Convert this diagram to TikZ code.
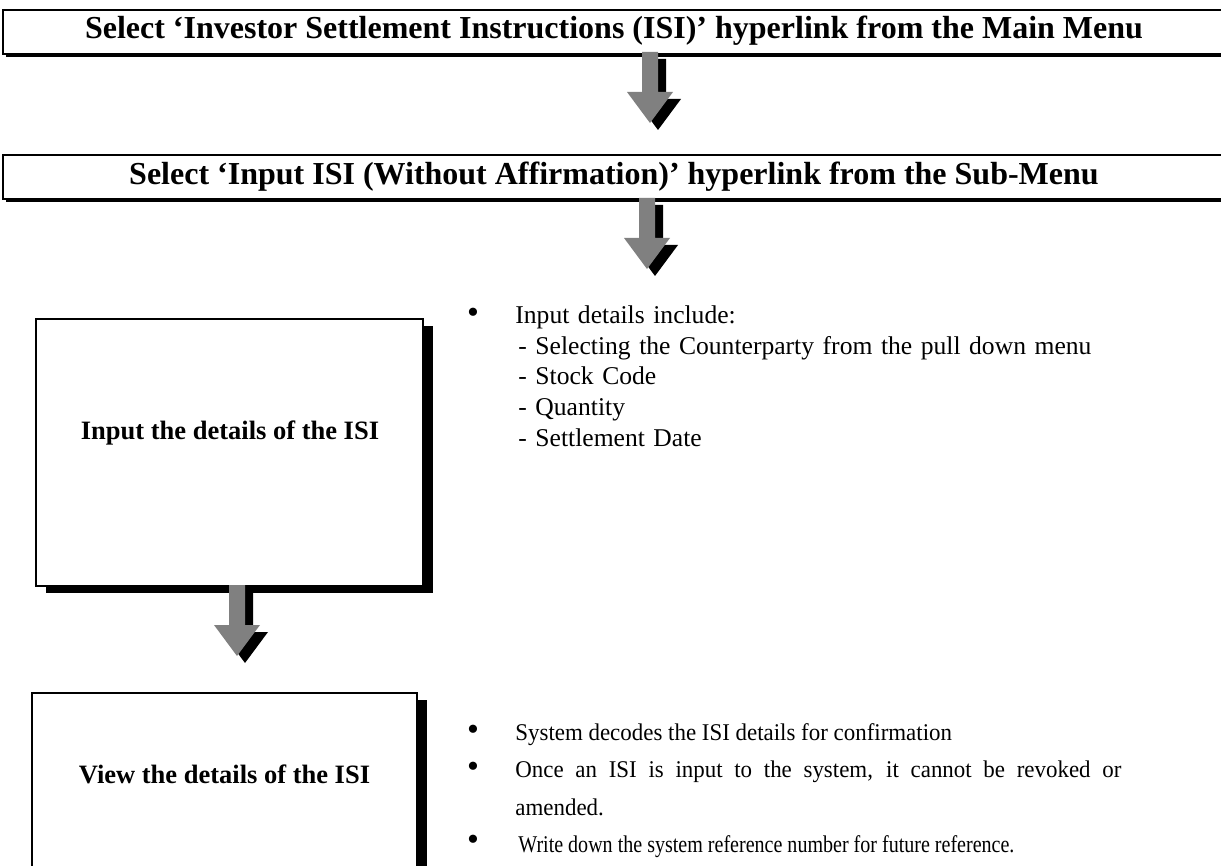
\documentclass[tikz,border=0pt]{standalone}
\usepackage{fontspec}
\setmainfont{Liberation Serif}
\newfontfamily\notefont[FakeStretch=0.955]{Liberation Serif}
\newfontfamily\narrownotefont[FakeStretch=0.835]{Liberation Serif}
\usetikzlibrary{shadows}
\definecolor{arrowgray}{HTML}{808080}

\begin{document}
\begin{tikzpicture}[x=0.5pt,y=-0.5pt,
    headbox/.style={draw, line width=1pt, fill=white, inner sep=0pt,
      minimum width=611pt, minimum height=22pt,
      text height=0.66em, text depth=0pt,
      font=\fontsize{16}{19}\selectfont\bfseries,
      drop shadow={shadow xshift=1.5pt, shadow yshift=-1.5pt, opacity=1, fill=black}},
    stepbox/.style={draw, line width=1pt, fill=white, inner sep=0pt,
      drop shadow={shadow xshift=5pt, shadow yshift=-3.5pt, opacity=1, fill=black}},
    boxtext/.style={inner sep=0pt, text height=0.66em, text depth=0pt,
      font=\fontsize{13.25}{16}\selectfont\bfseries},
    bulletmark/.style={inner sep=0pt, anchor=center, font=\fontsize{17}{17}\selectfont},
    listone/.style={inner sep=0pt, anchor=base west, text width=300pt, align=left,
      font=\fontsize{12.8}{15.5}\selectfont},
    listtwo/.style={inner sep=0pt, anchor=base west, text width=303pt, align=justify,
      font=\fontsize{12}{18.75}\notefont},
    downarrow/.pic={
      \fill[black, shift={(8,7)}] (-8,0) -- (8,0) -- (8,40) -- (23,40) -- (0,71)
        -- (-23,40) -- (-8,40) -- cycle;
      \fill[arrowgray] (-8,0) -- (8,0) -- (8,40) -- (23,40) -- (0,71)
        -- (-23,40) -- (-8,40) -- cycle;
    }]
  \clip (0,0) rectangle (1221,866);

  % menu steps
  \node[headbox] (mainmenu) at (614,32) {Select ‘Investor Settlement Instructions (ISI)’ hyperlink from the Main Menu};
  \node[headbox] (submenu) at (614,177.5) {Select ‘Input ISI (Without Affirmation)’ hyperlink from the Sub-Menu};

  % input and view boxes
  \node[stepbox, minimum width=193.5pt, minimum height=133.5pt] (input) at (229.5,452.5) {};
  \node[boxtext] (inputlbl) at (230,433) {Input the details of the ISI};

  \node[stepbox, minimum width=192.5pt, minimum height=133.5pt] (view) at (224.5,826.5) {};
  \node[boxtext] (viewlbl) at (224.5,777) {View the details of the ISI};

  % arrows
  \pic at (650,52) {downarrow};
  \pic at (647,198) {downarrow};
  \pic at (237,585) {downarrow};

  % notes for input
  \node[bulletmark] (b1) at (473,316) {\textbullet};
  \node[listone] (details) at (515,323) {Input details include:\\
    \hspace*{1.5pt}- Selecting the Counterparty from the pull down menu\\
    \hspace*{1.5pt}- Stock Code\\
    \hspace*{1.5pt}- Quantity\\
    \hspace*{1.5pt}- Settlement Date};

  % notes for view
  \node[bulletmark] (b2) at (473,733) {\textbullet};
  \node[listtwo] (decode) at (515,740) {System decodes the ISI details for confirmation};
  \node[bulletmark] (b3) at (473,770) {\textbullet};
  \node[listtwo] (revoke) at (515,777.5) {Once an ISI is input to the system, it cannot be revoked or\linebreak amended.};
  \node[bulletmark] (b4) at (473,843) {\textbullet};
  \node[listtwo] (refno) at (515,852.5) {\narrownotefont\hspace*{1.5pt}Write down the system reference number for future reference.};
\end{tikzpicture}
\end{document}
